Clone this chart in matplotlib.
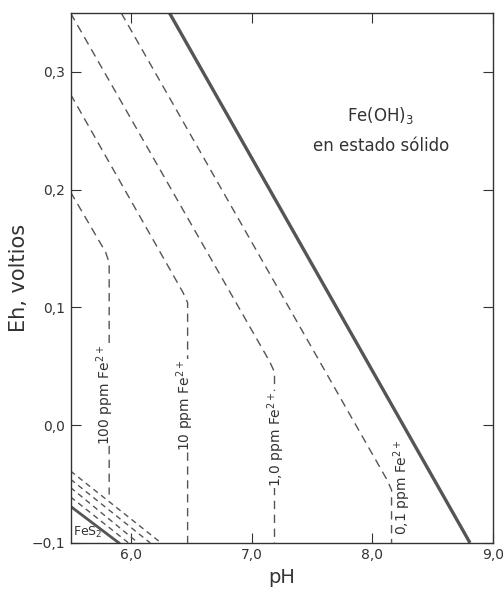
#Eh-pH diagram: Fe(OH)3 / Fe2+ stability fields with FeS2 region
import matplotlib.pyplot as plt

#solid boundary of Fe(OH)3
feoh3_ph = [6.32, 8.81]
feoh3_eh = [0.35, -0.10]

#dashed Fe2+ iso-concentration lines (pH, Eh)
ppm100_ph = [5.50, 5.79, 5.82, 5.82]
ppm100_eh = [0.198, 0.147, 0.138, -0.059]
ppm10_ph = [5.50, 6.43, 6.47, 6.47]
ppm10_eh = [0.281, 0.113, 0.104, -0.10]
ppm1_ph = [5.50, 7.15, 7.19, 7.19]
ppm1_eh = [0.35, 0.054, 0.045, -0.10]
ppm01_ph = [5.92, 8.12, 8.16, 8.16]
ppm01_eh = [0.35, -0.046, -0.055, -0.10]

#FeS2 field: solid border plus dashed hatch lines
fes2_ph = [5.50, 5.90]
fes2_eh = [-0.069, -0.10]
hatch_start_eh = [-0.039, -0.046, -0.053, -0.061]
hatch_end_ph = [6.25, 6.16, 6.06, 5.98]

#labels for the vertical lines: text, x, y
conc_labels = ['100 ppm Fe$^{2+}$', '10 ppm Fe$^{2+}$', '1,0 ppm Fe$^{2+}$', '0,1 ppm Fe$^{2+}$']
conc_x = [5.79, 6.45, 7.20, 8.25]
conc_y = [0.026, 0.017, -0.012, -0.053]

xticks = [6.0, 7.0, 8.0, 9.0]
xtick_labels = ['6,0', '7,0', '8,0', '9,0']
yticks = [-0.1, 0.0, 0.1, 0.2, 0.3]
ytick_labels = ['\u22120,1', '0,0', '0,1', '0,2', '0,3']

line_col = '#555555'
txt_col = '#333333'
fig = plt.figure(figsize=(5.04, 5.92), dpi=100)
ax = fig.add_axes([0.140, 0.083, 0.838, 0.895])

ax.plot(feoh3_ph, feoh3_eh, color=line_col, lw=2.4, solid_capstyle='butt')
dash = (0, (6, 4))
for px, ey in [(ppm100_ph, ppm100_eh), (ppm10_ph, ppm10_eh), (ppm1_ph, ppm1_eh), (ppm01_ph, ppm01_eh)]:
    ax.plot(px, ey, color=line_col, lw=1.0, linestyle=dash)

ax.plot(fes2_ph, fes2_eh, color=line_col, lw=2.0)
for e0, p1 in zip(hatch_start_eh, hatch_end_ph):
    ax.plot([5.5, p1], [e0, -0.1], color=line_col, lw=1.0, linestyle=(0, (4, 3)))

for i, (txt, x, y) in enumerate(zip(conc_labels, conc_x, conc_y)):
    t = ax.text(x, y, txt, rotation=90, ha='center', va='center', fontsize=10, color=txt_col)
    if i < 3:  #these ones sit on top of their dashed line
        t.set_bbox(dict(facecolor='white', edgecolor='none', pad=0.5))

ax.text(8.07, 0.263, 'Fe(OH)$_3$', ha='center', va='center', fontsize=12, color=txt_col)
ax.text(8.07, 0.237, 'en estado sólido', ha='center', va='center', fontsize=12, color=txt_col)
ax.text(5.52, -0.091, 'FeS$_2$', ha='left', va='center', fontsize=9, color=txt_col)

ax.set_xlim(5.5, 9.0)
ax.set_ylim(-0.1, 0.35)
ax.set_xticks(xticks)
ax.set_xticklabels(xtick_labels)
ax.set_yticks(yticks)
ax.set_yticklabels(ytick_labels)
ax.tick_params(direction='in', top=True, right=True, length=7, width=0.8, labelsize=10,
               colors=txt_col, pad=4)
for s in ax.spines.values():
    s.set_color(txt_col)
    s.set_linewidth(1.0)
ax.set_xlabel('pH', fontsize=14, color=txt_col, labelpad=4)
ax.set_ylabel('Eh, voltios', fontsize=15, color=txt_col, labelpad=2)

plt.savefig('out.png', dpi=100)
